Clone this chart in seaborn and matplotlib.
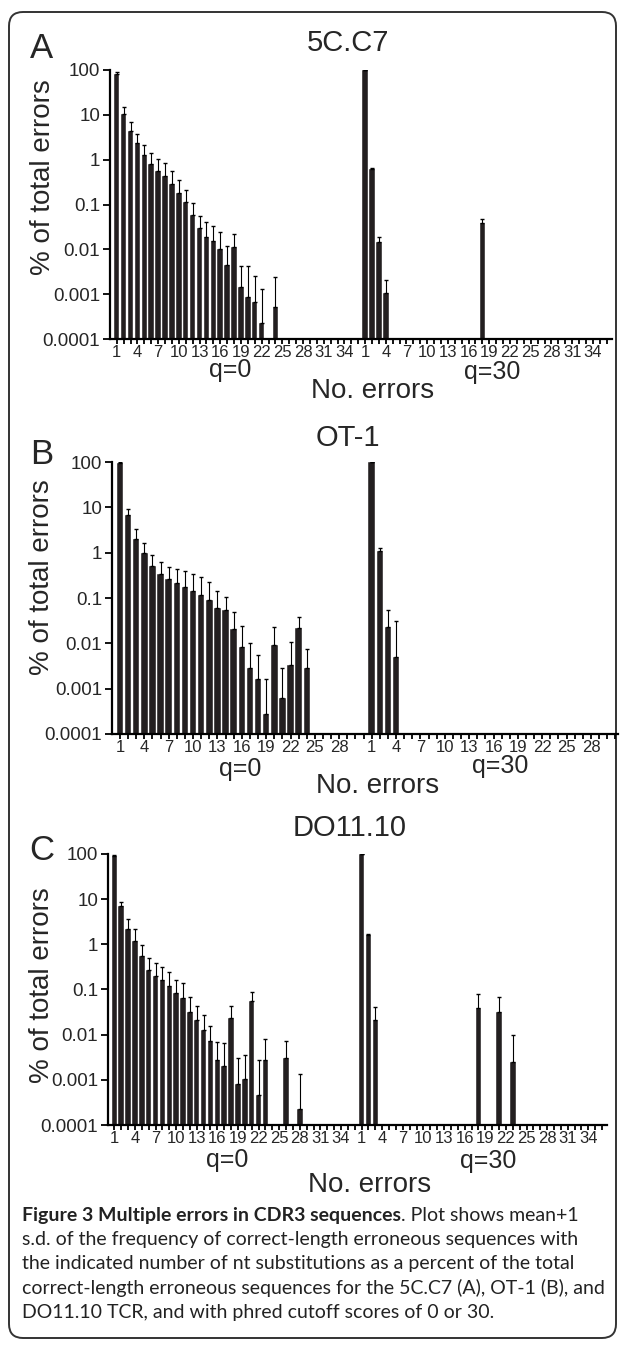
import numpy as np
import pandas as pd
import matplotlib
matplotlib.use("Agg")
import matplotlib.pyplot as plt
import seaborn as sns
from matplotlib.patches import FancyBboxPatch

# ---------------- data ----------------
panel_letters = ["A", "B", "C"]
panel_titles = ["5C.C7", "OT-1", "DO11.10"]
group_names = ["q=0", "q=30"]
group_lengths = [36, 31, 36]
last_labels = [34, 28, 34]
ytick_values = [0.0001, 0.001, 0.01, 0.1, 1, 10, 100]
ytick_labels = ["0.0001", "0.001", "0.01", "0.1", "1", "10", "100"]

# Panel A: 5C.C7 (mean and mean+1 s.d.)
a_q0_pos = list(range(1, 23)) + [24]
a_q0_mean = [81, 10.5, 4.4, 2.36, 1.26, 0.79, 0.56, 0.43, 0.29, 0.18, 0.114, 0.058,
             0.030, 0.0186, 0.015, 0.0103, 0.0045, 0.0114, 0.00147, 0.00088, 0.00068,
             0.000223, 0.00051]
a_q0_upper = [88, 14.7, 7.0, 3.67, 2.1, 1.38, 1.05, 0.85, 0.55, 0.36, 0.21, 0.107,
              0.056, 0.040, 0.034, 0.024, 0.012, 0.0215, 0.0043, 0.0043, 0.0026,
              0.00128, 0.0024]
a_q30_pos = [1, 2, 3, 4, 18]
a_q30_mean = [99, 0.63, 0.0144, 0.00105, 0.039]
a_q30_upper = [99, 0.66, 0.0186, 0.0021, 0.048]

# Panel B: OT-1
b_q0_pos = list(range(1, 25))
b_q0_mean = [93, 6.9, 2.04, 0.98, 0.52, 0.345, 0.26, 0.21, 0.178, 0.145, 0.118, 0.091,
             0.059, 0.055, 0.0204, 0.0085, 0.0028, 0.00161, 0.00027, 0.0091, 0.00063,
             0.0034, 0.022, 0.0028]
b_q0_upper = [98, 9.0, 3.4, 1.66, 0.90, 0.62, 0.49, 0.44, 0.40, 0.34, 0.29, 0.22,
              0.145, 0.107, 0.048, 0.0246, 0.0104, 0.0056, 0.00163, 0.023, 0.0029,
              0.0107, 0.039, 0.0075]
b_q30_pos = [1, 2, 3, 4]
b_q30_mean = [99, 1.08, 0.023, 0.0050]
b_q30_upper = [99, 1.28, 0.054, 0.031]

# Panel C: DO11.10
c_q0_pos = list(range(1, 24)) + [26, 28]
c_q0_mean = [90, 6.9, 2.2, 1.17, 0.56, 0.27, 0.195, 0.162, 0.121, 0.083, 0.065, 0.032,
             0.0214, 0.0125, 0.0071, 0.0028, 0.0020, 0.023, 0.00079, 0.00105, 0.055,
             0.00045, 0.0027, 0.0031, 0.00023]
c_q0_upper = [95, 8.5, 3.66, 2.17, 0.96, 0.495, 0.38, 0.31, 0.24, 0.165, 0.136, 0.067,
              0.043, 0.027, 0.0155, 0.0068, 0.0064, 0.044, 0.0031, 0.0035, 0.089,
              0.0027, 0.0081, 0.0071, 0.00138]
c_q30_pos = [1, 2, 3, 18, 21, 23]
c_q30_mean = [99, 1.6, 0.0215, 0.038, 0.031, 0.0025]
c_q30_upper = [99, 1.73, 0.040, 0.079, 0.068, 0.010]

caption_bold = "Figure 3 Multiple errors in CDR3 sequences"
caption_lines = [
    ". Plot shows mean+1",
    "s.d. of the frequency of correct-length erroneous sequences with",
    "the indicated number of nt substitutions as a percent of the total",
    "correct-length erroneous sequences for the 5C.C7 (A), OT-1 (B), and",
    "DO11.10 TCR, and with phred cutoff scores of 0 or 30.",
]

# ---------------- style ----------------
sns.set_style("ticks")
plt.rcParams["font.family"] = ["Liberation Sans", "DejaVu Sans"]

W, H = 625, 1348
fig = plt.figure(figsize=(W / 100, H / 100), dpi=100)

bg = fig.add_axes([0, 0, 1, 1], zorder=0)
bg.set_xlim(0, W)
bg.set_ylim(H, 0)
bg.axis("off")
bg.add_patch(FancyBboxPatch((9, 12), 607, 1326, boxstyle="round,pad=0,rounding_size=14",
                            fill=False, edgecolor="#333333", linewidth=1.4))

BAR = "#231f20"

# layout in pixel coordinates: left, right, top(=100), bottom(=0.0001), first bar px, step px
layouts = [
    dict(l=110, r=612, t=70, b=339, x0=116.7, dx=6.90),
    dict(l=112, r=618, t=462, b=734, x0=120.0, dx=8.12),
    dict(l=108, r=607, t=854, b=1125, x0=114.3, dx=6.87),
]
text_pos = [
    dict(letter=(42, 48), title=(348, 43), ylab=(43, 177), q0=(230, 370), q30=(492, 372),
         nerr=(373, 391)),
    dict(letter=(42, 455), title=(348, 438), ylab=(42, 577), q0=(240, 769), q30=(500, 766),
         nerr=(378, 786)),
    dict(letter=(42, 850), title=(350, 828), ylab=(42, 985), q0=(227, 1160), q30=(488, 1161),
         nerr=(370, 1185)),
]

panels = [
    (a_q0_pos, a_q0_mean, a_q0_upper, a_q30_pos, a_q30_mean, a_q30_upper),
    (b_q0_pos, b_q0_mean, b_q0_upper, b_q30_pos, b_q30_mean, b_q30_upper),
    (c_q0_pos, c_q0_mean, c_q0_upper, c_q30_pos, c_q30_mean, c_q30_upper),
]

for i, (p0, m0, u0, p1, m1, u1) in enumerate(panels):
    lay = layouts[i]
    glen = group_lengths[i]
    ax = fig.add_axes([lay["l"] / W, 1 - lay["b"] / H, (lay["r"] - lay["l"]) / W,
                       (lay["b"] - lay["t"]) / H], zorder=2)
    ax.patch.set_alpha(0)
    idx = [p - 1 for p in p0] + [glen + p - 1 for p in p1]
    df = pd.DataFrame({"idx": idx, "pct": list(m0) + list(m1),
                       "upper": list(u0) + list(u1)})
    sns.barplot(data=df, x="idx", y="pct", native_scale=True, width=0.8, color=BAR,
                saturation=1, edgecolor="white", linewidth=0.3, errorbar=None, ax=ax)
    ax.set_yscale("log")
    ax.errorbar(df["idx"], df["pct"], yerr=[np.zeros(len(df)), df["upper"] - df["pct"]],
                fmt="none", ecolor="black", elinewidth=0.8, capsize=1.4, capthick=1.0)
    ax.set_ylim(1e-4, 100)
    xl = (lay["l"] - lay["x0"]) / lay["dx"]
    xr = (lay["r"] - lay["x0"]) / lay["dx"]
    ax.set_xlim(xl, xr)
    # ticks
    major_lbls = list(range(1, last_labels[i] + 1, 3))
    major = [l - 1 for l in major_lbls] + [glen + l - 1 for l in major_lbls]
    ax.set_xticks(major, [str(l) for l in major_lbls] * 2)
    ax.set_xticks(range(2 * glen), minor=True)
    ax.set_yticks(ytick_values, ytick_labels)
    ax.yaxis.set_minor_locator(matplotlib.ticker.NullLocator())
    ax.tick_params(axis="x", which="both", direction="out", length=3.5, width=1.3,
                   pad=1.0, labelsize=12, color="black")
    ax.tick_params(axis="y", which="major", direction="out", length=5, width=1.3,
                   pad=2, labelsize=13.5, color="black")
    ax.set_xlabel("")
    ax.set_ylabel("")
    sns.despine(ax=ax)
    for s in ("left", "bottom"):
        ax.spines[s].set_linewidth(1.6)
        ax.spines[s].set_color("black")

    tp = text_pos[i]
    bg.text(*tp["letter"], panel_letters[i], fontsize=25, ha="center", va="center")
    bg.text(*tp["title"], panel_titles[i], fontsize=21, ha="center", va="center")
    bg.text(*tp["ylab"], "% of total errors", fontsize=20, rotation=90,
            ha="center", va="center")
    bg.text(*tp["q0"], group_names[0], fontsize=18, ha="center", va="center")
    bg.text(*tp["q30"], group_names[1], fontsize=18, ha="center", va="center")
    bg.text(*tp["nerr"], "No. errors", fontsize=20, ha="center", va="center")

# caption
cap_font = ["Lato", "DejaVu Sans"]
cap_size = 14.0
cap_y = [1221, 1245, 1269, 1294, 1318]
t_bold = bg.text(22, cap_y[0], caption_bold, fontsize=cap_size, fontweight="bold",
                 family=cap_font, va="baseline", ha="left", color="#222222")
bg.annotate(caption_lines[0], xy=(1, 0), xycoords=t_bold, va="bottom", ha="left",
            fontsize=cap_size, family=cap_font, color="#222222")
for y, line in zip(cap_y[1:], caption_lines[1:]):
    bg.text(22, y, line, fontsize=cap_size, family=cap_font, va="baseline", ha="left",
            color="#222222")

fig.savefig("out.png", dpi=100)
